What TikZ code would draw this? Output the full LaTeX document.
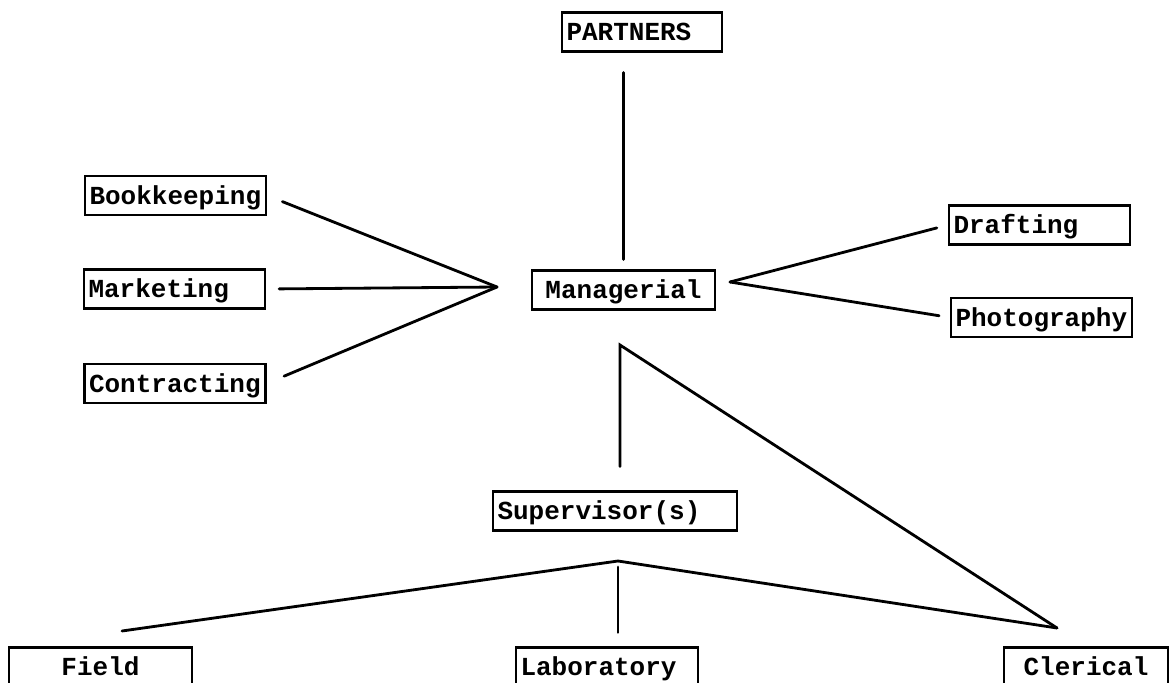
\documentclass[tikz,border=0pt]{standalone}
\usepackage{fontspec}
\setmonofont{Liberation Mono}
\tikzset{
  unitbox/.style={draw=black,line width=1.2pt,fill=white,align=left,
    font=\ttfamily\bfseries\fontsize{14.8}{16}\selectfont,
    text height=0.40cm,text depth=0.06cm,
    minimum height=0.78cm,inner xsep=0.09cm,inner ysep=0pt},
  link/.style={line width=1.6pt,draw=black,line cap=round}
}
\begin{document}
\begin{tikzpicture}[x=1cm,y=1cm]
  \useasboundingbox (0,0) rectangle (23.52,13.64);

  % top of the chart
  \node[unitbox,text width=3.02cm] (partners) at (12.84,13.00) {PARTNERS};
  \node[unitbox,text width=3.48cm,align=center] (managerial) at (12.47,7.84) {Managerial};

  % staff functions beside the manager
  \node[unitbox,text width=3.44cm] (bookkeeping) at (3.51,9.73) {Bookkeeping};
  \node[unitbox,text width=3.44cm] (marketing) at (3.49,7.86) {Marketing};
  \node[unitbox,text width=3.44cm] (contracting) at (3.50,5.97) {Contracting};
  \node[unitbox,text width=3.44cm] (drafting) at (20.79,9.14) {Drafting};
  \node[unitbox,text width=3.44cm] (photography) at (20.83,7.29) {Photography};

  % line units
  \node[unitbox,text width=4.70cm] (supervisor) at (12.30,3.42) {Supervisor(s)};
  \node[unitbox,text width=3.48cm,align=center] (field) at (2.01,0.30) {Field};
  \node[unitbox,text width=3.46cm] (laboratory) at (12.14,0.30) {Laboratory};
  \node[unitbox,text width=3.10cm,align=center] (clerical) at (21.72,0.30) {Clerical};

  % junction points
  \coordinate (hubL) at (9.94,7.90);
  \coordinate (hubR) at (14.60,8.00);
  \coordinate (split) at (12.40,6.74);
  \coordinate (peak) at (12.36,2.42);
  \coordinate (fieldtip) at (2.44,1.02);
  \coordinate (clericaltip) at (21.14,1.08);

  \draw[link,shorten <=0.4cm,shorten >=0.2cm] (partners.south -| managerial.north) -- (managerial.north);

  \draw[link,shorten <=0.33cm] (bookkeeping.east) -- (hubL);
  \draw[link,shorten <=0.26cm] (marketing.east) -- (hubL);
  \draw[link,shorten <=0.38cm] (contracting.east) -- (hubL);

  \draw[link,shorten <=0.23cm] (drafting.west) -- (hubR);
  \draw[link,shorten >=0.22cm] (hubR) -- (photography.west);

  \draw[link,shorten >=0.48cm] (clericaltip) -- (split) -- (split |- supervisor.north);
  \draw[link] (fieldtip) -- (peak) -- (clericaltip);
  \draw[link,shorten <=0.12cm,shorten >=0.28cm] (peak) -- (peak |- laboratory.north);
\end{tikzpicture}
\end{document}
